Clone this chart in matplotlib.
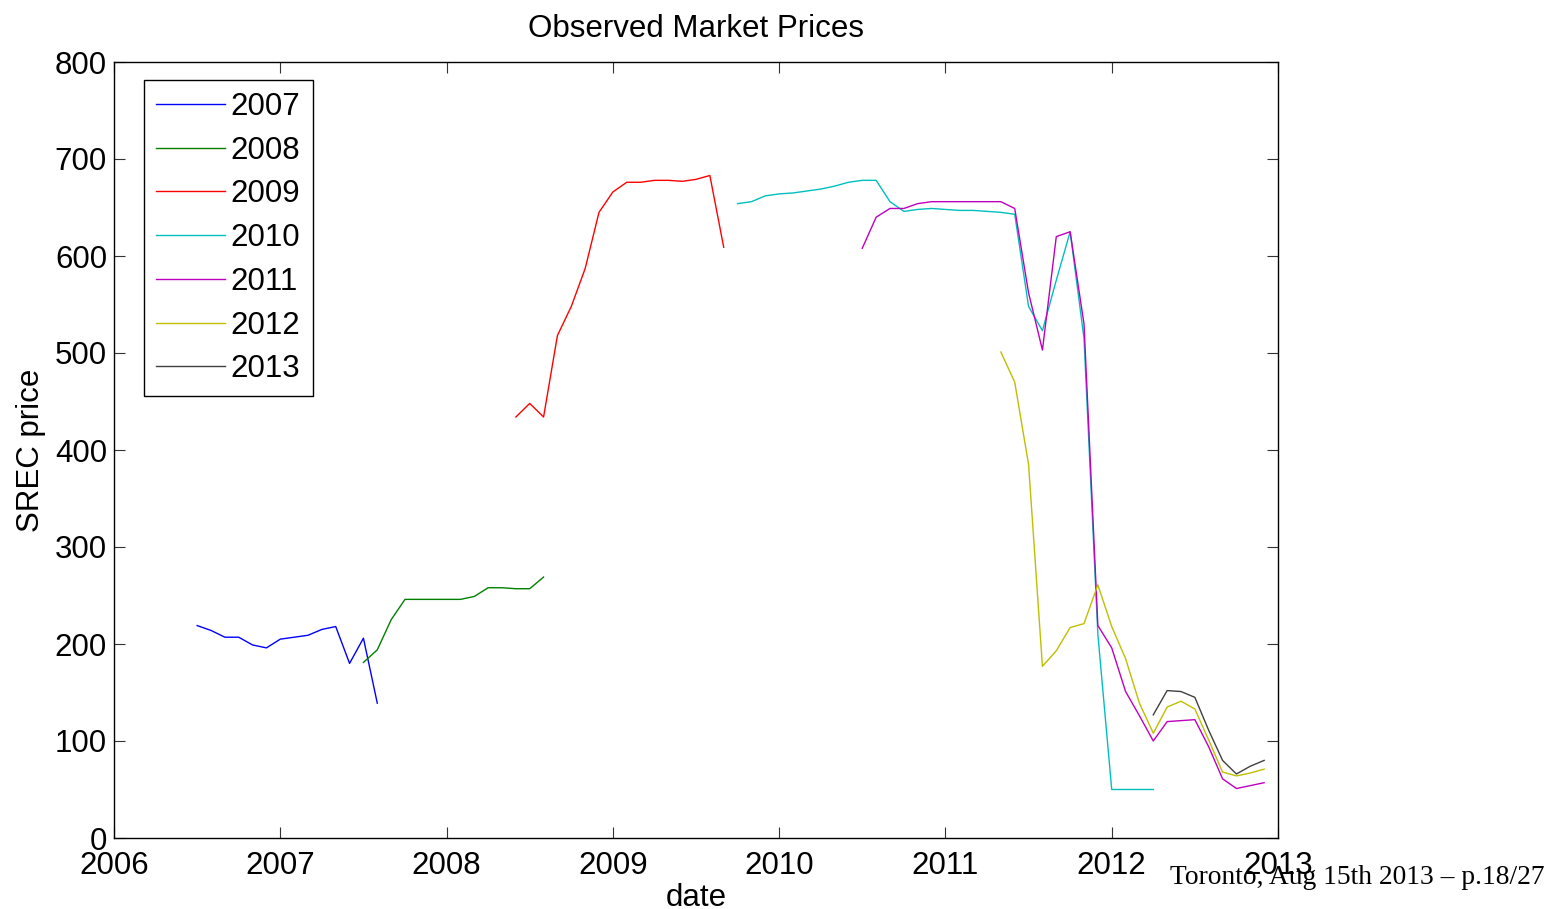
import matplotlib
matplotlib.use("Agg")
import matplotlib.pyplot as plt
import numpy as np

# Monthly SREC prices per vintage year; each series starts at the given (year, month)
years = ["2007", "2008", "2009", "2010", "2011", "2012", "2013"]
start_2007 = (2006, 7)
prices_2007 = [219, 214, 207, 207, 199, 196, 205, 207, 209, 215, 218, 180, 206, 139]
start_2008 = (2007, 7)
prices_2008 = [181, 194, 225, 246, 246, 246, 246, 246, 249, 258, 258, 257, 257, 269]
start_2009 = (2008, 6)
prices_2009 = [434, 448, 434, 518, 548, 587, 645, 666, 676, 676, 678, 678, 677, 679,
               683, 609]
start_2010 = (2009, 10)
prices_2010 = [654, 656, 662, 664, 665, 667, 669, 672, 676, 678, 678, 656, 646, 648,
               649, 648, 647, 647, 646, 645, 643, 548, 523, 575, 625, 515, 210, 50,
               50, 50, 50]
start_2011 = (2010, 7)
prices_2011 = [608, 640, 649, 649, 654, 656, 656, 656, 656, 656, 656, 649, 562, 503,
               620, 625, 530, 219, 196, 151, 126, 100, 120, 121, 122, 94, 61, 51,
               54, 57]
start_2012 = (2011, 5)
prices_2012 = [501, 470, 385, 177, 193, 217, 221, 261, 218, 185, 139, 108, 135, 141,
               133, 101, 68, 64, 67, 71]
start_2013 = (2012, 4)
prices_2013 = [127, 152, 151, 145, 111, 80, 66, 74, 80]

starts = [start_2007, start_2008, start_2009, start_2010, start_2011, start_2012, start_2013]
series = [prices_2007, prices_2008, prices_2009, prices_2010, prices_2011, prices_2012,
          prices_2013]

# Classic MATLAB line colour order
colors = [(0, 0, 1), (0, 0.5, 0), (1, 0, 0), (0, 0.75, 0.75), (0.75, 0, 0.75),
          (0.75, 0.75, 0), (0.25, 0.25, 0.25)]

x_ticks = [2006, 2007, 2008, 2009, 2010, 2011, 2012, 2013]
y_ticks = [0, 100, 200, 300, 400, 500, 600, 700, 800]

plt.rcParams["font.family"] = ["Liberation Sans", "DejaVu Sans"]
FS = 22.5

fig = plt.figure(figsize=(15.58, 9.09), dpi=100)
ax = fig.add_axes([114 / 1558, 1 - 838 / 909, (1278 - 114) / 1558, (838 - 62) / 909])

for label, (y0, m0), vals, col in zip(years, starts, series, colors):
    x = y0 + (m0 - 1 + np.arange(len(vals))) / 12.0
    ax.plot(x, vals, color=col, lw=1.0, label=label)

ax.set_xlim(2006, 2013)
ax.set_ylim(0, 800)
ax.set_xticks(x_ticks)
ax.set_xticklabels([str(t) for t in x_ticks])
ax.set_yticks(y_ticks)
ax.set_yticklabels([str(t) for t in y_ticks])
ax.tick_params(direction="in", length=8, width=0.8, top=True, right=True,
               labelsize=FS, color="#333333")
ax.tick_params(axis="x", pad=9)
ax.tick_params(axis="y", pad=5)
for s in ax.spines.values():
    s.set_linewidth(1.0)
    s.set_color("black")

ax.set_title("Observed Market Prices", fontsize=FS, pad=18)
ax.set_xlabel("date", fontsize=FS, labelpad=2)
ax.set_ylabel("SREC price", fontsize=FS, labelpad=6)

leg = ax.legend(loc="upper left", bbox_to_anchor=(30 / 1164, 1 - 18 / 776),
                borderaxespad=0, fontsize=FS, frameon=True, fancybox=False,
                handlelength=2.2, handletextpad=0.2, labelspacing=0.44,
                borderpad=0.38)
leg.get_frame().set_edgecolor("black")
leg.get_frame().set_linewidth(1.0)
leg.get_frame().set_alpha(None)

fig.text(1545 / 1558, 1 - 877 / 909, "Toronto, Aug 15th 2013 \u2013 p.18/27",
         family=["Liberation Serif", "DejaVu Serif"], fontsize=19.8,
         ha="right", va="center")

fig.savefig("out.png", dpi=100, facecolor="white")
